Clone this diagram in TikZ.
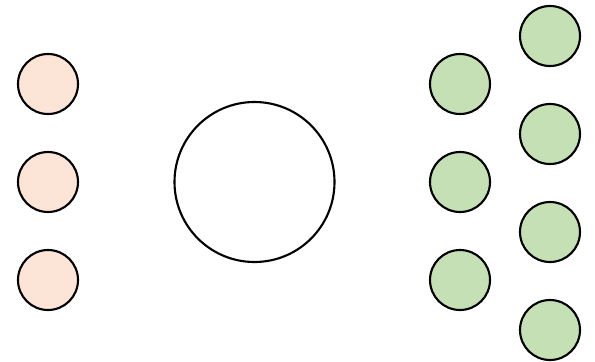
\documentclass[tikz,border=0pt]{standalone}
\usepackage{tikz}
\definecolor{inorange}{HTML}{FCE4D6}
\definecolor{outgreen}{HTML}{C5E0B4}

\begin{document}
\begin{tikzpicture}[x=0.03cm,y=-0.03cm,
  unit/.style={circle,draw,line width=1.8pt,inner sep=0pt,minimum size=1.8cm}]
  \useasboundingbox (0,0) rectangle (595,361);
  \foreach \y/\n in {84/1,182/2,280/3}
    \node[unit,fill=inorange] (in\n) at (48,\y) {};
  \node[circle,draw,line width=1.8pt,inner sep=0pt,minimum size=4.8cm] (mid) at (254.5,182) {};
  \foreach \y/\n in {84/1,182/2,280/3}
    \node[unit,fill=outgreen] (outa\n) at (460,\y) {};
  \foreach \y/\n in {36/1,134/2,232/3,330/4}
    \node[unit,fill=outgreen] (outb\n) at (550,\y) {};
\end{tikzpicture}
\end{document}
